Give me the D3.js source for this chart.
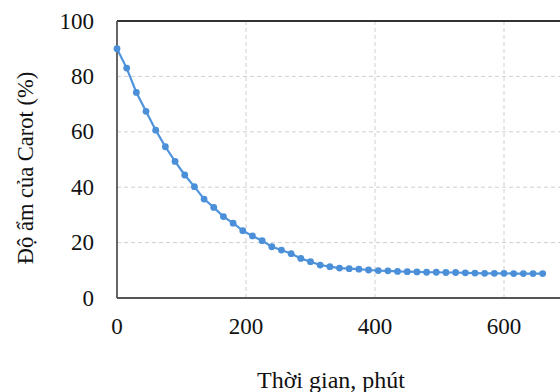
<!DOCTYPE html>
<html>
<head>
<meta charset="utf-8">
<script src="https://cdn.jsdelivr.net/npm/d3@7"></script>
<style>
  body { margin: 0; background: #fff; }
  svg { display: block; }
  text { font-family: 'Liberation Serif', 'DejaVu Serif', serif; fill: #111; }
</style>
</head>
<body>
<svg id="chart" width="560" height="392"></svg>
<script>
// drying time (min) and carrot moisture (%)
const times = d3.range(0, 661, 15);
const moisture = [
  90.0, 83.0, 74.2, 67.4, 60.6, 54.6, 49.3, 44.4, 40.2, 35.7,
  32.7, 29.4, 27.0, 24.3, 22.4, 20.7, 18.5, 17.3, 16.0, 14.3,
  13.1, 11.9, 11.3, 10.8, 10.6, 10.4, 10.1, 9.9, 9.8, 9.6,
  9.5, 9.4, 9.3, 9.3, 9.2, 9.2, 9.1, 9.0, 8.9, 8.9,
  8.9, 8.8, 8.8, 8.8, 8.8
];
const xTicks = [0, 200, 400, 600];
const yTicks = [0, 20, 40, 60, 80, 100];

const data = times.map((t, i) => ({ t, m: moisture[i] }));

const svg = d3.select('#chart');
const plotLeft = 117, plotTop = 21, plotBottom = 298;
const plotW = 700 * 0.645;

const x = d3.scaleLinear().domain([0, 700]).range([plotLeft, plotLeft + plotW]);
const y = d3.scaleLinear().domain([0, 100]).range([plotBottom, plotTop]);

// grid
svg.append('g')
  .selectAll('line')
  .data(yTicks.filter(d => d > 0 && d < 100))
  .enter().append('line')
  .attr('x1', plotLeft).attr('x2', 560)
  .attr('y1', d => y(d)).attr('y2', d => y(d))
  .attr('stroke', '#d0d0d0').attr('stroke-width', 1)
  .attr('stroke-dasharray', '4,3');

svg.append('g')
  .selectAll('line')
  .data(xTicks.filter(d => d > 0))
  .enter().append('line')
  .attr('x1', d => x(d)).attr('x2', d => x(d))
  .attr('y1', plotTop).attr('y2', plotBottom)
  .attr('stroke', '#d0d0d0').attr('stroke-width', 1)
  .attr('stroke-dasharray', '4,3');

// frame
svg.append('line')
  .attr('x1', plotLeft).attr('x2', 560).attr('y1', plotTop).attr('y2', plotTop)
  .attr('stroke', '#333').attr('stroke-width', 1.8);
svg.append('line')
  .attr('x1', plotLeft).attr('x2', 560).attr('y1', plotBottom).attr('y2', plotBottom)
  .attr('stroke', '#555').attr('stroke-width', 1.8);
svg.append('line')
  .attr('x1', plotLeft).attr('x2', plotLeft).attr('y1', plotTop).attr('y2', plotBottom)
  .attr('stroke', '#555').attr('stroke-width', 1.8);

// tick labels
svg.append('g')
  .selectAll('text')
  .data(yTicks)
  .enter().append('text')
  .attr('x', 94).attr('y', d => y(d) + 7.5)
  .attr('text-anchor', 'end')
  .attr('font-size', 23)
  .text(d => d);

svg.append('g')
  .selectAll('text')
  .data(xTicks)
  .enter().append('text')
  .attr('x', d => x(d)).attr('y', 334)
  .attr('text-anchor', 'middle')
  .attr('font-size', 23)
  .text(d => d);

// axis titles
svg.append('text')
  .attr('x', 331).attr('y', 388)
  .attr('text-anchor', 'middle')
  .attr('font-size', 24)
  .text('Thời gian, phút');

svg.append('text')
  .attr('transform', 'translate(33,168) rotate(-90)')
  .attr('text-anchor', 'middle')
  .attr('font-size', 22.5)
  .text('Độ ẩm của Carot (%)');

// series
const line = d3.line().x(d => x(d.t)).y(d => y(d.m));
svg.append('path')
  .datum(data)
  .attr('d', line)
  .attr('fill', 'none')
  .attr('stroke', '#4f94dc')
  .attr('stroke-width', 2.2);

svg.append('g')
  .selectAll('circle')
  .data(data)
  .enter().append('circle')
  .attr('cx', d => x(d.t)).attr('cy', d => y(d.m))
  .attr('r', 3.4)
  .attr('fill', '#4a8fd8');
</script>
</body>
</html>
